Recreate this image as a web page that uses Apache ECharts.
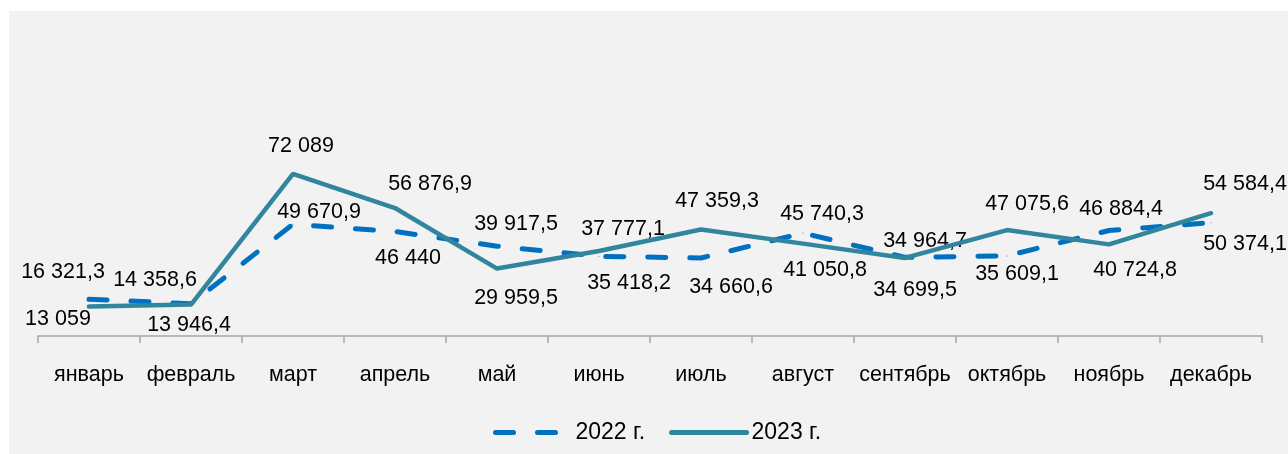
<!DOCTYPE html>
<html>
<head>
<meta charset="utf-8">
<script src="https://cdn.jsdelivr.net/npm/echarts@6/dist/echarts.min.js"></script>
<style>
  html, body { margin: 0; padding: 0; background: #ffffff; }
  #chart { position: absolute; left: 9px; top: 11px; width: 1279px; height: 443px; }
</style>
</head>
<body>
<div id="chart"></div>
<script>
// месяцы и значения
var months = ['январь', 'февраль', 'март', 'апрель', 'май', 'июнь', 'июль', 'август', 'сентябрь', 'октябрь', 'ноябрь', 'декабрь']
var values2022 = [16321.3, 14358.6, 49670.9, 46440, 39917.5, 35418.2, 34660.6, 45740.3, 34964.7, 35609.1, 46884.4, 50374.1]
var values2023 = [13059, 13946.4, 72089, 56876.9, 29959.5, 37777.1, 47359.3, 41050.8, 34699.5, 47075.6, 40724.8, 54584.4]

// сдвиги подписей (как в исходной диаграмме)
var offsets2022 = [[-26, -27], [-36, -24], [26, -12], [13, 27], [19, -22], [30, 27], [30, 29], [19, -19], [20, -16], [10, 18], [12, -21], [34, 21]]
var offsets2023 = [[-31, 12], [-2, 20], [8, -28], [35, -24], [19, 29], [24, -22], [16, -28], [22, 26], [10, 32], [20, -26], [26, 26], [34, -29]]

var fontName = 'Liberation Sans, Arial, sans-serif'

function formatNumber (v) {
  var parts = String(v).split('.')
  var intPart = parts[0].replace(/\B(?=(\d{3})+(?!\d))/g, ' ')
  return parts.length > 1 ? intPart + ',' + parts[1] : intPart
}

function buildData (values, offsets) {
  return values.map(function (v, i) {
    return { value: v, label: { offset: offsets[i] } }
  })
}

var myChart = echarts.init(document.getElementById('chart'))
var option = {
  backgroundColor: '#f2f2f2',
  animation: false,
  textStyle: { fontFamily: fontName },
  grid: { left: 29, width: 1224, top: 100, height: 225 },
  legend: {
    left: 479,
    top: 405,
    itemWidth: 75,
    itemHeight: 20,
    itemGap: 24,
    itemStyle: { opacity: 0 },
    lineStyle: { width: 5, cap: 'round' },
    textStyle: { fontSize: 23, color: '#000000', fontFamily: fontName },
    data: ['2022 г.', '2023 г.']
  },
  xAxis: {
    type: 'category',
    data: months,
    boundaryGap: true,
    axisLine: { lineStyle: { color: '#a6a6a6', width: 1.5 } },
    axisTick: { show: true, interval: 0, length: 7, lineStyle: { color: '#a6a6a6', width: 1.5 } },
    axisLabel: { interval: 0, margin: 28, fontSize: 21.5, color: '#000000', fontFamily: fontName }
  },
  yAxis: {
    type: 'value',
    min: 0,
    max: 100000,
    show: false,
    splitLine: { show: false }
  },
  series: [
    {
      name: '2022 г.',
      type: 'line',
      data: buildData(values2022, offsets2022),
      symbol: 'circle',
      symbolSize: 1,
      showSymbol: true,
      itemStyle: { color: '#0070c0' },
      lineStyle: { color: '#0070c0', width: 5, type: [18, 24], cap: 'round' },
      label: {
        show: true,
        position: 'inside',
        fontSize: 21.5,
        color: '#000000',
        fontFamily: fontName,
        formatter: function (p) { return formatNumber(p.value) }
      },
      z: 2
    },
    {
      name: '2023 г.',
      type: 'line',
      data: buildData(values2023, offsets2023),
      symbol: 'circle',
      symbolSize: 1,
      showSymbol: true,
      itemStyle: { color: '#31859c' },
      lineStyle: { color: '#31859c', width: 4.5, cap: 'round' },
      label: {
        show: true,
        position: 'inside',
        fontSize: 21.5,
        color: '#000000',
        fontFamily: fontName,
        formatter: function (p) { return formatNumber(p.value) }
      },
      z: 3
    }
  ]
}
myChart.setOption(option)
</script>
</body>
</html>
